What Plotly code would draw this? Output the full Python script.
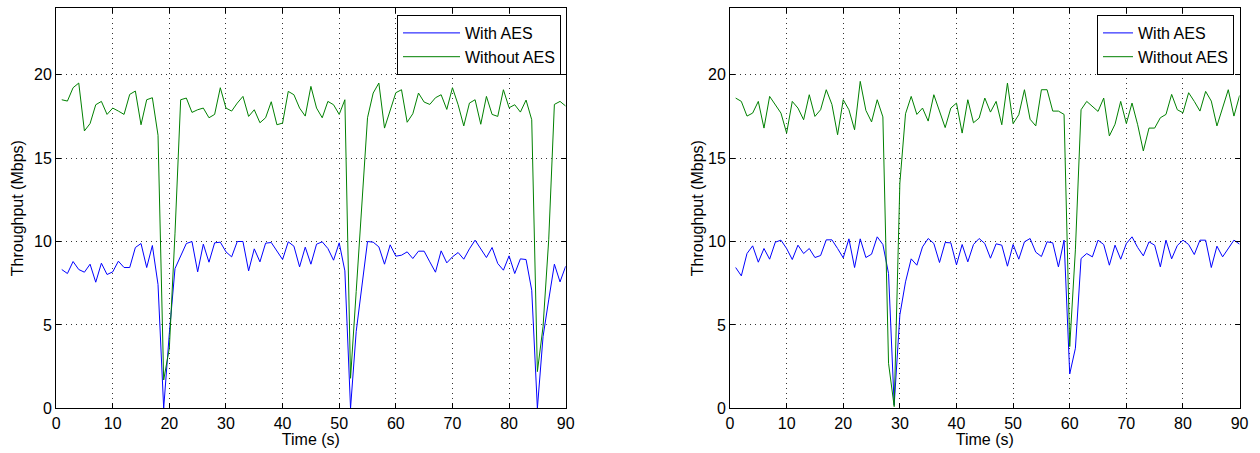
import plotly.graph_objects as go

# Time axis (seconds)
time_s = list(range(1, 91))

# Run A: throughput (Mbps)
run_a_with_aes = [
    8.32, 8.08, 8.8, 8.32, 8.16, 8.64, 7.56, 8.7, 8.02, 8.18,
    8.82, 8.44, 8.44, 9.64, 9.88, 8.44, 9.76, 7.42, 0.0, 4.5,
    8.38, 9.08, 9.88, 10.0, 8.18, 9.84, 8.76, 9.92, 9.96, 9.38,
    9.08, 10.0, 10.0, 8.24, 9.56, 8.78, 9.9, 9.94, 9.44, 8.92,
    9.98, 9.72, 8.48, 9.66, 8.64, 9.84, 9.98, 9.58, 8.88, 9.92,
    8.24, 0.0, 4.6, 7.4, 10.0, 9.96, 9.68, 8.64, 9.8, 9.12,
    9.18, 9.38, 8.98, 9.42, 9.42, 8.78, 8.16, 9.44, 8.72, 9.08,
    9.34, 8.94, 9.56, 10.08, 9.58, 9.04, 9.64, 8.68, 8.28, 9.14,
    8.08, 8.96, 8.92, 7.08, 0.0, 4.3, 6.5, 8.64, 7.58, 8.52,
]
run_a_without_aes = [
    18.5, 18.42, 19.22, 19.5, 16.63, 17.07, 18.2, 18.4, 17.62, 18.0,
    17.82, 17.62, 18.82, 19.02, 17.0, 18.5, 18.62, 16.37, 1.7, 3.6,
    10.5, 18.5, 18.6, 17.74, 17.9, 18.0, 17.42, 17.62, 19.22, 18.0,
    17.82, 18.3, 18.7, 17.5, 17.9, 17.12, 17.42, 18.38, 17.0, 17.1,
    19.0, 18.8, 18.0, 17.52, 19.3, 18.0, 17.42, 18.4, 18.2, 17.62,
    18.5, 1.8, 7.0, 12.2, 17.42, 18.9, 19.5, 16.8, 17.85, 18.92,
    19.1, 17.15, 17.66, 18.9, 18.36, 18.22, 18.62, 18.8, 17.92, 19.22,
    18.2, 16.93, 18.3, 18.5, 17.03, 18.7, 17.62, 17.5, 19.1, 18.02,
    18.2, 17.76, 18.48, 17.3, 2.2, 4.9, 10.1, 18.22, 18.4, 18.12,
]

# Run B: throughput (Mbps)
run_b_with_aes = [
    8.44, 7.94, 9.28, 9.74, 8.76, 9.58, 8.94, 9.96, 10.08, 9.58,
    8.92, 9.78, 9.28, 9.58, 9.04, 9.16, 10.1, 10.1, 9.58, 9.02,
    10.16, 8.44, 10.16, 9.04, 9.24, 10.28, 9.82, 8.08, 0.2, 5.6,
    7.58, 8.96, 8.58, 9.68, 10.18, 9.88, 8.74, 9.94, 9.92, 8.6,
    9.82, 8.78, 9.82, 10.18, 9.88, 9.0, 9.86, 9.78, 8.52, 9.82,
    8.94, 9.98, 10.18, 9.36, 9.1, 9.98, 9.92, 8.48, 10.08, 2.06,
    3.6, 8.98, 9.28, 9.08, 10.08, 9.82, 8.58, 9.78, 8.94, 9.88,
    10.28, 9.64, 9.14, 9.98, 9.78, 8.48, 10.08, 8.96, 9.76, 10.08,
    9.82, 9.22, 10.08, 10.08, 8.44, 9.72, 9.08, 9.62, 10.08, 9.84,
]
run_b_without_aes = [
    18.6, 18.4, 17.52, 17.7, 18.4, 16.8, 18.7, 18.2, 17.7, 16.5,
    18.4, 18.0, 17.3, 18.8, 17.5, 17.9, 19.1, 18.22, 16.4, 18.5,
    17.9, 16.7, 19.6, 17.86, 17.17, 18.5, 17.47, 2.7, 0.1, 13.5,
    17.66, 18.7, 17.62, 18.0, 17.22, 18.8, 17.8, 16.83, 18.0, 18.3,
    16.5, 18.5, 17.12, 17.4, 18.6, 17.76, 18.4, 17.0, 19.5, 17.07,
    17.6, 19.1, 17.33, 16.93, 19.1, 19.1, 17.82, 17.82, 17.62, 3.7,
    9.5, 17.9, 18.4, 18.1, 17.8, 18.6, 16.33, 17.03, 18.4, 17.07,
    18.3, 17.0, 15.43, 16.8, 16.8, 17.42, 17.62, 18.82, 17.9, 17.72,
    18.92, 18.4, 17.82, 19.0, 18.42, 16.93, 18.0, 19.1, 17.52, 18.76,
]

x_ticks = list(range(0, 91, 10))
y_ticks = [0, 5, 10, 15, 20]

BLUE = "#0000ff"
GREEN = "#008000"
FONT = "Liberation Sans, Arial, sans-serif"

fig = go.Figure()

panels = [
    ("x", "y", "legend", run_a_with_aes, run_a_without_aes),
    ("x2", "y2", "legend2", run_b_with_aes, run_b_without_aes),
]
for xa, ya, lg, with_aes, without_aes in panels:
    fig.add_trace(go.Scatter(
        x=time_s, y=with_aes, mode="lines", name="With AES",
        line=dict(color=BLUE, width=1), xaxis=xa, yaxis=ya, legend=lg,
    ))
    fig.add_trace(go.Scatter(
        x=time_s, y=without_aes, mode="lines", name="Without AES",
        line=dict(color=GREEN, width=1), xaxis=xa, yaxis=ya, legend=lg,
    ))

W, H = 1260, 453
plot_top, plot_bottom = 8, 408.3
y_dom = [(H - plot_bottom) / H, (H - plot_top) / H]


def x_axis(left, right, anchor):
    return dict(
        domain=[left / W, right / W], anchor=anchor,
        range=[0, 90], tickvals=x_ticks, ticks="inside", ticklen=5,
        tickcolor="black", showline=True, linecolor="black", linewidth=1,
        mirror="allticks", showgrid=True, gridcolor="#333333",
        griddash="1px,4px", gridwidth=1, zeroline=False,
        tickfont=dict(family=FONT, size=16, color="black"),
        title=dict(text="Time (s)", standoff=3,
                   font=dict(family=FONT, size=16, color="black")),
        automargin=False,
    )


def y_axis(anchor, standoff):
    return dict(
        domain=y_dom, anchor=anchor,
        range=[0, 24], tickvals=y_ticks, ticks="inside", ticklen=5,
        tickcolor="black", showline=True, linecolor="black", linewidth=1,
        mirror="allticks", showgrid=True, gridcolor="#333333",
        griddash="1px,4px", gridwidth=1, zeroline=False,
        tickfont=dict(family=FONT, size=16, color="black"),
        title=dict(text="Throughput (Mbps)", standoff=standoff,
                   font=dict(family=FONT, size=16, color="black")),
        automargin=False,
    )


legend_style = dict(
    xanchor="right", yanchor="top", bgcolor="white",
    bordercolor="black", borderwidth=1,
    font=dict(family=FONT, size=16, color="black"),
    tracegroupgap=0,
)

fig.update_layout(
    width=W, height=H,
    margin=dict(l=0, r=0, t=0, b=0),
    paper_bgcolor="white", plot_bgcolor="white",
    xaxis=x_axis(56.1, 565.7, "y"),
    yaxis=y_axis("x", 6),
    xaxis2=x_axis(730.0, 1239.6, "y2"),
    yaxis2=y_axis("x2", 0),
    legend=dict(x=561 / W, y=1 - 15 / H, itemwidth=57, **legend_style),
    legend2=dict(x=1234 / W, y=1 - 15 / H, **legend_style),
    font=dict(family=FONT, size=16, color="black"),
)

fig.write_html("out.html")
